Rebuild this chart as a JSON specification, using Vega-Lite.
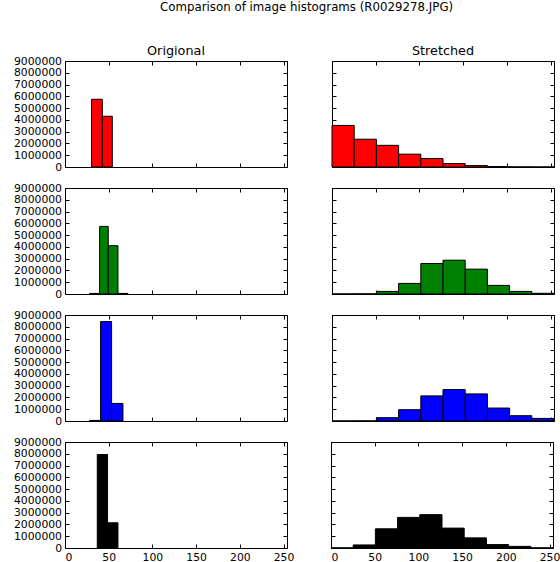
{
  "$schema": "https://vega.github.io/schema/vega-lite/v6.json",
  "padding": {"left": 12, "top": 2, "right": 4, "bottom": 0},
  "title": {"text": "Comparison of image histograms (R0029278.JPG)", "fontSize": 11.8, "fontWeight": "normal", "font": "DejaVu Sans", "color": "black", "anchor": "middle", "offset": 30, "dx": 20},
  "datasets": {
    "h": [
      {"ch": "red", "kind": "O", "b0": 30.4, "b1": 42.7, "n": 5750000},
      {"ch": "red", "kind": "O", "b0": 42.7, "b1": 54.1, "n": 4310000},
      {"ch": "green", "kind": "O", "b0": 28.1, "b1": 39.6, "n": 50000},
      {"ch": "green", "kind": "O", "b0": 39.6, "b1": 49.5, "n": 5740000},
      {"ch": "green", "kind": "O", "b0": 49.5, "b1": 60.6, "n": 4100000},
      {"ch": "green", "kind": "O", "b0": 60.6, "b1": 72.0, "n": 50000},
      {"ch": "blue", "kind": "O", "b0": 28.1, "b1": 40.7, "n": 50000},
      {"ch": "blue", "kind": "O", "b0": 40.7, "b1": 53.3, "n": 8440000},
      {"ch": "blue", "kind": "O", "b0": 53.3, "b1": 66.3, "n": 1490000},
      {"ch": "black", "kind": "O", "b0": 36.9, "b1": 48.7, "n": 7940000},
      {"ch": "black", "kind": "O", "b0": 48.7, "b1": 60.6, "n": 2140000},
      {"ch": "red", "kind": "S", "b0": 0, "b1": 25.4, "n": 3530000},
      {"ch": "red", "kind": "S", "b0": 25.4, "b1": 50.8, "n": 2360000},
      {"ch": "red", "kind": "S", "b0": 50.8, "b1": 76.2, "n": 1840000},
      {"ch": "red", "kind": "S", "b0": 76.2, "b1": 101.6, "n": 1090000},
      {"ch": "red", "kind": "S", "b0": 101.6, "b1": 127.0, "n": 720000},
      {"ch": "red", "kind": "S", "b0": 127.0, "b1": 152.4, "n": 290000},
      {"ch": "red", "kind": "S", "b0": 152.4, "b1": 177.8, "n": 120000},
      {"ch": "red", "kind": "S", "b0": 177.8, "b1": 203.2, "n": 40000},
      {"ch": "red", "kind": "S", "b0": 203.2, "b1": 228.6, "n": 10000},
      {"ch": "red", "kind": "S", "b0": 228.6, "b1": 254.0, "n": 3000},
      {"ch": "green", "kind": "S", "b0": 0, "b1": 25.4, "n": 5000},
      {"ch": "green", "kind": "S", "b0": 25.4, "b1": 50.8, "n": 10000},
      {"ch": "green", "kind": "S", "b0": 50.8, "b1": 76.2, "n": 220000},
      {"ch": "green", "kind": "S", "b0": 76.2, "b1": 101.6, "n": 900000},
      {"ch": "green", "kind": "S", "b0": 101.6, "b1": 127.0, "n": 2590000},
      {"ch": "green", "kind": "S", "b0": 127.0, "b1": 152.4, "n": 2870000},
      {"ch": "green", "kind": "S", "b0": 152.4, "b1": 177.8, "n": 2110000},
      {"ch": "green", "kind": "S", "b0": 177.8, "b1": 203.2, "n": 730000},
      {"ch": "green", "kind": "S", "b0": 203.2, "b1": 228.6, "n": 220000},
      {"ch": "green", "kind": "S", "b0": 228.6, "b1": 254.0, "n": 60000},
      {"ch": "blue", "kind": "S", "b0": 0, "b1": 25.4, "n": 5000},
      {"ch": "blue", "kind": "S", "b0": 25.4, "b1": 50.8, "n": 10000},
      {"ch": "blue", "kind": "S", "b0": 50.8, "b1": 76.2, "n": 280000},
      {"ch": "blue", "kind": "S", "b0": 76.2, "b1": 101.6, "n": 960000},
      {"ch": "blue", "kind": "S", "b0": 101.6, "b1": 127.0, "n": 2130000},
      {"ch": "blue", "kind": "S", "b0": 127.0, "b1": 152.4, "n": 2670000},
      {"ch": "blue", "kind": "S", "b0": 152.4, "b1": 177.8, "n": 2300000},
      {"ch": "blue", "kind": "S", "b0": 177.8, "b1": 203.2, "n": 1100000},
      {"ch": "blue", "kind": "S", "b0": 203.2, "b1": 228.6, "n": 450000},
      {"ch": "blue", "kind": "S", "b0": 228.6, "b1": 254.0, "n": 220000},
      {"ch": "black", "kind": "S", "b0": 0, "b1": 25.4, "n": 10000},
      {"ch": "black", "kind": "S", "b0": 25.4, "b1": 50.8, "n": 260000},
      {"ch": "black", "kind": "S", "b0": 50.8, "b1": 76.2, "n": 1630000},
      {"ch": "black", "kind": "S", "b0": 76.2, "b1": 101.6, "n": 2600000},
      {"ch": "black", "kind": "S", "b0": 101.6, "b1": 127.0, "n": 2830000},
      {"ch": "black", "kind": "S", "b0": 127.0, "b1": 152.4, "n": 1690000},
      {"ch": "black", "kind": "S", "b0": 152.4, "b1": 177.8, "n": 860000},
      {"ch": "black", "kind": "S", "b0": 177.8, "b1": 203.2, "n": 290000},
      {"ch": "black", "kind": "S", "b0": 203.2, "b1": 228.6, "n": 140000},
      {"ch": "black", "kind": "S", "b0": 228.6, "b1": 254.0, "n": 10000}
    ]
  },
  "data": {"name": "h"},
  "vconcat": [
    {"hconcat": [
      {"width": 222, "height": 106, "title": {"text": "Origional", "dy": 5.5},
       "transform": [{"filter": "datum.ch === 'red' && datum.kind === 'O'"}],
       "layer": [
        {"mark": {"type": "rect", "fill": "#ff0000", "stroke": "black", "strokeWidth": 1},
         "encoding": {
          "x": {"field": "b0", "type": "quantitative", "scale": {"domain": [0, 254], "nice": false, "zero": false}, "axis": {"orient": "bottom", "values": [0, 50, 100, 150, 200, 250], "labels": false, "title": null}},
          "x2": {"field": "b1"},
          "y": {"field": "n", "type": "quantitative", "scale": {"domain": [0, 9000000], "nice": false}, "axis": {"orient": "left", "values": [0, 1000000, 2000000, 3000000, 4000000, 5000000, 6000000, 7000000, 8000000, 9000000], "format": "d", "labels": true, "title": null}},
          "y2": {"datum": 0}}},
        {"mark": {"type": "rect", "opacity": 0},
         "encoding": {
          "x": {"field": "b0", "type": "quantitative", "axis": {"orient": "top", "values": [0, 50, 100, 150, 200, 250], "labels": false, "title": null}},
          "x2": {"field": "b1"},
          "y": {"field": "n", "type": "quantitative", "axis": {"orient": "right", "values": [0, 1000000, 2000000, 3000000, 4000000, 5000000, 6000000, 7000000, 8000000, 9000000], "labels": false, "title": null}},
          "y2": {"datum": 0}}}
       ]},
      {"width": 222, "height": 106, "title": "Stretched",
       "transform": [{"filter": "datum.ch === 'red' && datum.kind === 'S'"}],
       "layer": [
        {"mark": {"type": "rect", "fill": "#ff0000", "stroke": "black", "strokeWidth": 1},
         "encoding": {
          "x": {"field": "b0", "type": "quantitative", "scale": {"domain": [0, 254], "nice": false, "zero": false}, "axis": {"orient": "bottom", "values": [0, 50, 100, 150, 200, 250], "labels": false, "title": null}},
          "x2": {"field": "b1"},
          "y": {"field": "n", "type": "quantitative", "scale": {"domain": [0, 9000000], "nice": false}, "axis": {"orient": "left", "values": [0, 1000000, 2000000, 3000000, 4000000, 5000000, 6000000, 7000000, 8000000, 9000000], "labels": false, "title": null}},
          "y2": {"datum": 0}}},
        {"mark": {"type": "rect", "opacity": 0},
         "encoding": {
          "x": {"field": "b0", "type": "quantitative", "axis": {"orient": "top", "values": [0, 50, 100, 150, 200, 250], "labels": false, "title": null}},
          "x2": {"field": "b1"},
          "y": {"field": "n", "type": "quantitative", "axis": {"orient": "right", "values": [0, 1000000, 2000000, 3000000, 4000000, 5000000, 6000000, 7000000, 8000000, 9000000], "labels": false, "title": null}},
          "y2": {"datum": 0}}}
       ]}
    ], "spacing": 43},
    {"hconcat": [
      {"width": 222, "height": 106,
       "transform": [{"filter": "datum.ch === 'green' && datum.kind === 'O'"}],
       "layer": [
        {"mark": {"type": "rect", "fill": "#008000", "stroke": "black", "strokeWidth": 1},
         "encoding": {
          "x": {"field": "b0", "type": "quantitative", "scale": {"domain": [0, 254], "nice": false, "zero": false}, "axis": {"orient": "bottom", "values": [0, 50, 100, 150, 200, 250], "labels": false, "title": null}},
          "x2": {"field": "b1"},
          "y": {"field": "n", "type": "quantitative", "scale": {"domain": [0, 9000000], "nice": false}, "axis": {"orient": "left", "values": [0, 1000000, 2000000, 3000000, 4000000, 5000000, 6000000, 7000000, 8000000, 9000000], "format": "d", "labels": true, "title": null}},
          "y2": {"datum": 0}}},
        {"mark": {"type": "rect", "opacity": 0},
         "encoding": {
          "x": {"field": "b0", "type": "quantitative", "axis": {"orient": "top", "values": [0, 50, 100, 150, 200, 250], "labels": false, "title": null}},
          "x2": {"field": "b1"},
          "y": {"field": "n", "type": "quantitative", "axis": {"orient": "right", "values": [0, 1000000, 2000000, 3000000, 4000000, 5000000, 6000000, 7000000, 8000000, 9000000], "labels": false, "title": null}},
          "y2": {"datum": 0}}}
       ]},
      {"width": 222, "height": 106,
       "transform": [{"filter": "datum.ch === 'green' && datum.kind === 'S'"}],
       "layer": [
        {"mark": {"type": "rect", "fill": "#008000", "stroke": "black", "strokeWidth": 1},
         "encoding": {
          "x": {"field": "b0", "type": "quantitative", "scale": {"domain": [0, 254], "nice": false, "zero": false}, "axis": {"orient": "bottom", "values": [0, 50, 100, 150, 200, 250], "labels": false, "title": null}},
          "x2": {"field": "b1"},
          "y": {"field": "n", "type": "quantitative", "scale": {"domain": [0, 9000000], "nice": false}, "axis": {"orient": "left", "values": [0, 1000000, 2000000, 3000000, 4000000, 5000000, 6000000, 7000000, 8000000, 9000000], "labels": false, "title": null}},
          "y2": {"datum": 0}}},
        {"mark": {"type": "rect", "opacity": 0},
         "encoding": {
          "x": {"field": "b0", "type": "quantitative", "axis": {"orient": "top", "values": [0, 50, 100, 150, 200, 250], "labels": false, "title": null}},
          "x2": {"field": "b1"},
          "y": {"field": "n", "type": "quantitative", "axis": {"orient": "right", "values": [0, 1000000, 2000000, 3000000, 4000000, 5000000, 6000000, 7000000, 8000000, 9000000], "labels": false, "title": null}},
          "y2": {"datum": 0}}}
       ]}
    ], "spacing": 43},
    {"hconcat": [
      {"width": 222, "height": 106,
       "transform": [{"filter": "datum.ch === 'blue' && datum.kind === 'O'"}],
       "layer": [
        {"mark": {"type": "rect", "fill": "#0000ff", "stroke": "black", "strokeWidth": 1},
         "encoding": {
          "x": {"field": "b0", "type": "quantitative", "scale": {"domain": [0, 254], "nice": false, "zero": false}, "axis": {"orient": "bottom", "values": [0, 50, 100, 150, 200, 250], "labels": false, "title": null}},
          "x2": {"field": "b1"},
          "y": {"field": "n", "type": "quantitative", "scale": {"domain": [0, 9000000], "nice": false}, "axis": {"orient": "left", "values": [0, 1000000, 2000000, 3000000, 4000000, 5000000, 6000000, 7000000, 8000000, 9000000], "format": "d", "labels": true, "title": null}},
          "y2": {"datum": 0}}},
        {"mark": {"type": "rect", "opacity": 0},
         "encoding": {
          "x": {"field": "b0", "type": "quantitative", "axis": {"orient": "top", "values": [0, 50, 100, 150, 200, 250], "labels": false, "title": null}},
          "x2": {"field": "b1"},
          "y": {"field": "n", "type": "quantitative", "axis": {"orient": "right", "values": [0, 1000000, 2000000, 3000000, 4000000, 5000000, 6000000, 7000000, 8000000, 9000000], "labels": false, "title": null}},
          "y2": {"datum": 0}}}
       ]},
      {"width": 222, "height": 106,
       "transform": [{"filter": "datum.ch === 'blue' && datum.kind === 'S'"}],
       "layer": [
        {"mark": {"type": "rect", "fill": "#0000ff", "stroke": "black", "strokeWidth": 1},
         "encoding": {
          "x": {"field": "b0", "type": "quantitative", "scale": {"domain": [0, 254], "nice": false, "zero": false}, "axis": {"orient": "bottom", "values": [0, 50, 100, 150, 200, 250], "labels": false, "title": null}},
          "x2": {"field": "b1"},
          "y": {"field": "n", "type": "quantitative", "scale": {"domain": [0, 9000000], "nice": false}, "axis": {"orient": "left", "values": [0, 1000000, 2000000, 3000000, 4000000, 5000000, 6000000, 7000000, 8000000, 9000000], "labels": false, "title": null}},
          "y2": {"datum": 0}}},
        {"mark": {"type": "rect", "opacity": 0},
         "encoding": {
          "x": {"field": "b0", "type": "quantitative", "axis": {"orient": "top", "values": [0, 50, 100, 150, 200, 250], "labels": false, "title": null}},
          "x2": {"field": "b1"},
          "y": {"field": "n", "type": "quantitative", "axis": {"orient": "right", "values": [0, 1000000, 2000000, 3000000, 4000000, 5000000, 6000000, 7000000, 8000000, 9000000], "labels": false, "title": null}},
          "y2": {"datum": 0}}}
       ]}
    ], "spacing": 43},
    {"hconcat": [
      {"width": 222, "height": 106,
       "transform": [{"filter": "datum.ch === 'black' && datum.kind === 'O'"}],
       "layer": [
        {"mark": {"type": "rect", "fill": "#000000", "stroke": "black", "strokeWidth": 1},
         "encoding": {
          "x": {"field": "b0", "type": "quantitative", "scale": {"domain": [0, 254], "nice": false, "zero": false}, "axis": {"orient": "bottom", "values": [0, 50, 100, 150, 200, 250], "labels": true, "format": "d", "title": null}},
          "x2": {"field": "b1"},
          "y": {"field": "n", "type": "quantitative", "scale": {"domain": [0, 9000000], "nice": false}, "axis": {"orient": "left", "values": [0, 1000000, 2000000, 3000000, 4000000, 5000000, 6000000, 7000000, 8000000, 9000000], "format": "d", "labels": true, "title": null}},
          "y2": {"datum": 0}}},
        {"mark": {"type": "rect", "opacity": 0},
         "encoding": {
          "x": {"field": "b0", "type": "quantitative", "axis": {"orient": "top", "values": [0, 50, 100, 150, 200, 250], "labels": false, "title": null}},
          "x2": {"field": "b1"},
          "y": {"field": "n", "type": "quantitative", "axis": {"orient": "right", "values": [0, 1000000, 2000000, 3000000, 4000000, 5000000, 6000000, 7000000, 8000000, 9000000], "labels": false, "title": null}},
          "y2": {"datum": 0}}}
       ]},
      {"width": 222, "height": 106,
       "transform": [{"filter": "datum.ch === 'black' && datum.kind === 'S'"}],
       "layer": [
        {"mark": {"type": "rect", "fill": "#000000", "stroke": "black", "strokeWidth": 1},
         "encoding": {
          "x": {"field": "b0", "type": "quantitative", "scale": {"domain": [0, 254], "nice": false, "zero": false}, "axis": {"orient": "bottom", "values": [0, 50, 100, 150, 200, 250], "labels": true, "format": "d", "title": null}},
          "x2": {"field": "b1"},
          "y": {"field": "n", "type": "quantitative", "scale": {"domain": [0, 9000000], "nice": false}, "axis": {"orient": "left", "values": [0, 1000000, 2000000, 3000000, 4000000, 5000000, 6000000, 7000000, 8000000, 9000000], "labels": false, "title": null}},
          "y2": {"datum": 0}}},
        {"mark": {"type": "rect", "opacity": 0},
         "encoding": {
          "x": {"field": "b0", "type": "quantitative", "axis": {"orient": "top", "values": [0, 50, 100, 150, 200, 250], "labels": false, "title": null}},
          "x2": {"field": "b1"},
          "y": {"field": "n", "type": "quantitative", "axis": {"orient": "right", "values": [0, 1000000, 2000000, 3000000, 4000000, 5000000, 6000000, 7000000, 8000000, 9000000], "labels": false, "title": null}},
          "y2": {"datum": 0}}}
       ]}
    ], "spacing": 35}
  ],
  "spacing": 8,
  "config": {
    "font": "DejaVu Sans",
    "view": {"stroke": "black", "strokeWidth": 1},
    "axis": {"domain": false, "grid": false, "ticks": true, "tickSize": -4, "tickColor": "black", "tickWidth": 1, "labelFont": "DejaVu Sans", "labelFontSize": 10.8, "labelColor": "black", "labelPadding": 7.5},
    "axisX": {"labelPadding": 7},
    "title": {"fontSize": 12.8, "fontWeight": "normal", "font": "DejaVu Sans", "color": "black", "offset": 3}
  }
}
